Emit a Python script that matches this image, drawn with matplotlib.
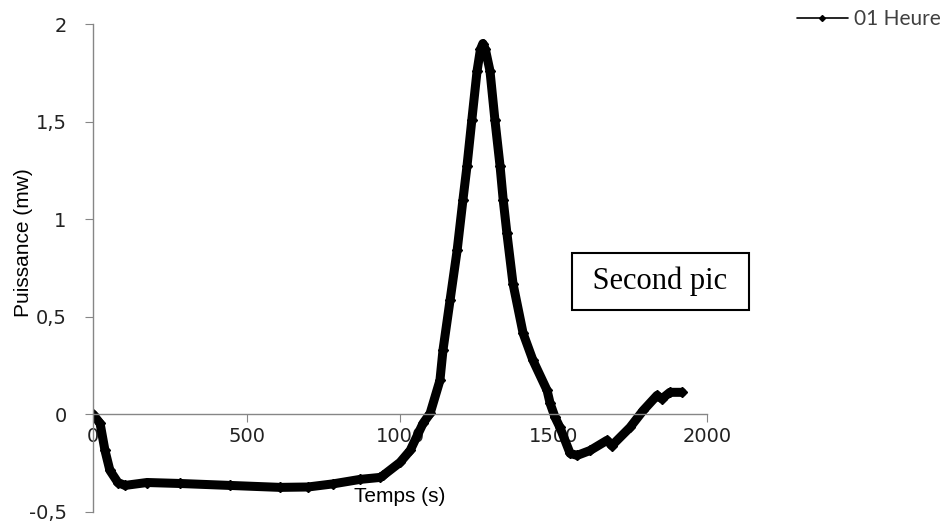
import numpy as np
import matplotlib.pyplot as plt

# Valeurs (temps en s, puissance en mW)
temps = [0, 23, 39, 55, 81, 104, 176, 283, 446, 609, 700, 782, 870, 935, 945,
         1000, 1033, 1075, 1098, 1130, 1140, 1163, 1186, 1205, 1218, 1234, 1251,
         1262, 1270, 1278, 1293, 1309, 1326, 1336, 1348, 1368, 1401, 1433, 1479,
         1489, 1505, 1521, 1554, 1577, 1619, 1674, 1690, 1749, 1792, 1837, 1853,
         1879, 1918]
puissance = [0, -0.046, -0.185, -0.287, -0.349, -0.364, -0.349, -0.354, -0.364,
             -0.374, -0.372, -0.356, -0.333, -0.323, -0.313, -0.246, -0.185,
             -0.046, 0.005, 0.174, 0.33, 0.585, 0.84, 1.10, 1.27, 1.51, 1.76,
             1.87, 1.90, 1.87, 1.76, 1.51, 1.27, 1.10, 0.93, 0.67, 0.415, 0.277,
             0.123, 0.056, -0.015, -0.067, -0.2, -0.21, -0.185, -0.133, -0.16,
             -0.067, 0.02, 0.097, 0.08, 0.113, 0.113]

serie = '01 Heure'
xticks = [0, 500, 1000, 1500, 2000]
yticks = [-0.5, 0, 0.5, 1, 1.5, 2]
ytick_labels = ['-0,5', '0', '0,5', '1', '1,5', '2']

GRIS = '#868686'

fig = plt.figure(figsize=(9.53, 5.22), dpi=100)
ax = fig.add_axes([0.0976, 0.0192, 0.6443, 0.9348])

ax.plot(temps, puissance, color='black', lw=6.5, marker='D', ms=5,
        solid_capstyle='round', solid_joinstyle='round', label=serie)

ax.set_xlim(0, 2000)
ax.set_ylim(-0.5, 2)

# axes a la Excel : axe x croise en y = 0
ax.spines['top'].set_visible(False)
ax.spines['right'].set_visible(False)
ax.spines['bottom'].set_position(('data', 0))
for s in ('bottom', 'left'):
    ax.spines[s].set_color(GRIS)
    ax.spines[s].set_linewidth(1)

ax.set_xticks(xticks)
ax.set_xticklabels([str(t) for t in xticks])
ax.set_yticks(yticks)
ax.set_yticklabels(ytick_labels)
ax.tick_params(axis='x', direction='out', length=6, color=GRIS, pad=3,
               labelsize=14, labelcolor='#222222')
ax.tick_params(axis='y', direction='out', length=6, color=GRIS, pad=13,
               labelsize=14, labelcolor='#222222')
for lab in ax.get_xticklabels() + ax.get_yticklabels():
    lab.set_family('DejaVu Sans')

ax.set_xlabel('Temps (s)', family='Liberation Sans', fontsize=15, va='center')
ax.xaxis.set_label_coords(0.5, 0.031)
ax.set_ylabel('Puissance (mw)', family='Liberation Sans', fontsize=15, va='center')
ax.yaxis.set_label_coords(-0.114, 0.553)

ax.text(1848, 0.68, ' Second pic ', family='Liberation Serif', fontsize=22,
        ha='center', va='center',
        bbox=dict(boxstyle='square,pad=0.45', fc='white', ec='black', lw=1.5))

leg = ax.legend(loc='center left', bbox_to_anchor=(0.836, 0.963),
                bbox_transform=fig.transFigure, frameon=False,
                handlelength=2.45, handletextpad=0.3, markerscale=0.6,
                borderpad=0, borderaxespad=0,
                prop={'family': 'Lato', 'size': 15})
for line in leg.get_lines():
    line.set_linewidth(1.2)
for txt in leg.get_texts():
    txt.set_color('#404040')

fig.savefig('out.png', dpi=100)
